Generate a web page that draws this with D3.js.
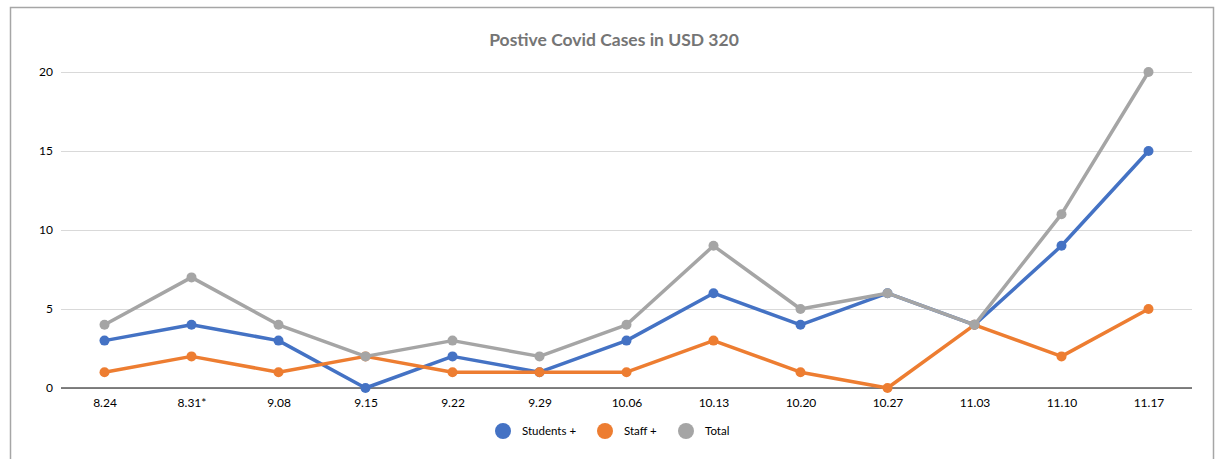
<!DOCTYPE html>
<html>
<head>
<meta charset="utf-8">
<script src="https://cdn.jsdelivr.net/npm/d3@7"></script>
<style>
  body { margin: 0; background: #fff; }
  svg { display: block; font-family: Lato, "Open Sans", sans-serif; }
</style>
</head>
<body>
<div id="chart"></div>
<script>
const weeks = ["8.24", "8.31*", "9.08", "9.15", "9.22", "9.29", "10.06", "10.13", "10.20", "10.27", "11.03", "11.10", "11.17"];
const students = [3, 4, 3, 0, 2, 1, 3, 6, 4, 6, 4, 9, 15];
const staff = [1, 2, 1, 2, 1, 1, 1, 3, 1, 0, 4, 2, 5];
const total = [4, 7, 4, 2, 3, 2, 4, 9, 5, 6, 4, 11, 20];
const yTicks = [0, 5, 10, 15, 20];

const series = [
  {name: "Students +", values: students, color: "#4472C4"},
  {name: "Staff +", values: staff, color: "#ED7D31"},
  {name: "Total", values: total, color: "#A5A5A5"}
];

const width = 1216, height = 459;
const margin = {top: 72, right: 24, bottom: 71, left: 61};

const svg = d3.select("#chart").append("svg")
    .attr("width", width)
    .attr("height", height);

// outer frame
svg.append("rect")
    .attr("x", 10.5).attr("y", 7.5)
    .attr("width", 1203).attr("height", 470)
    .attr("fill", "none")
    .attr("stroke", "#a6a6a6")
    .attr("stroke-width", 1.5);

const x = d3.scalePoint()
    .domain(weeks)
    .range([margin.left, width - margin.right])
    .padding(0.5);

const y = d3.scaleLinear()
    .domain([0, 20])
    .range([height - margin.bottom, margin.top]);

svg.append("text")
    .attr("x", 614).attr("y", 46)
    .attr("text-anchor", "middle")
    .attr("font-size", 17.5)
    .attr("font-weight", "bold")
    .attr("fill", "#757575")
    .text("Postive Covid Cases in USD 320");

// gridlines + y labels
const yAxis = d3.axisLeft(y)
    .tickValues(yTicks)
    .tickSize(-(width - margin.left - margin.right))
    .tickPadding(8);

const yG = svg.append("g")
    .attr("transform", `translate(${margin.left},0)`)
    .call(yAxis);
yG.select(".domain").remove();
yG.selectAll(".tick line").attr("stroke", "#d9d9d9").attr("stroke-width", 1);
yG.selectAll(".tick text").attr("font-size", 12).attr("fill", "#000").attr("font-family", "Lato, sans-serif");

const xAxis = d3.axisBottom(x).tickSize(0).tickPadding(10);
const xG = svg.append("g")
    .attr("transform", `translate(0,${y(0)})`)
    .call(xAxis);
xG.select(".domain")
    .attr("stroke", "#595959")
    .attr("stroke-width", 1.5)
    .attr("d", `M${margin.left},0H${width - margin.right}`);
xG.selectAll(".tick text").attr("font-size", 12).attr("fill", "#000").attr("font-family", "Lato, sans-serif");

const line = d3.line()
    .x((d, i) => x(weeks[i]))
    .y(d => y(d));

series.forEach(s => {
  const g = svg.append("g");
  g.append("path")
      .datum(s.values)
      .attr("d", line)
      .attr("fill", "none")
      .attr("stroke", s.color)
      .attr("stroke-width", 3.5)
      .attr("stroke-linejoin", "round");
  g.selectAll("circle")
      .data(s.values)
      .join("circle")
      .attr("cx", (d, i) => x(weeks[i]))
      .attr("cy", d => y(d))
      .attr("r", 5)
      .attr("fill", s.color);
});

// legend
const legendX = [503, 605, 686];
const legend = svg.append("g");
series.forEach((s, i) => {
  legend.append("circle")
      .attr("cx", legendX[i]).attr("cy", 431)
      .attr("r", 8)
      .attr("fill", s.color);
  legend.append("text")
      .attr("x", legendX[i] + 19).attr("y", 435)
      .attr("font-size", 11.5)
      .attr("fill", "#000")
      .text(s.name);
});
</script>
</body>
</html>
